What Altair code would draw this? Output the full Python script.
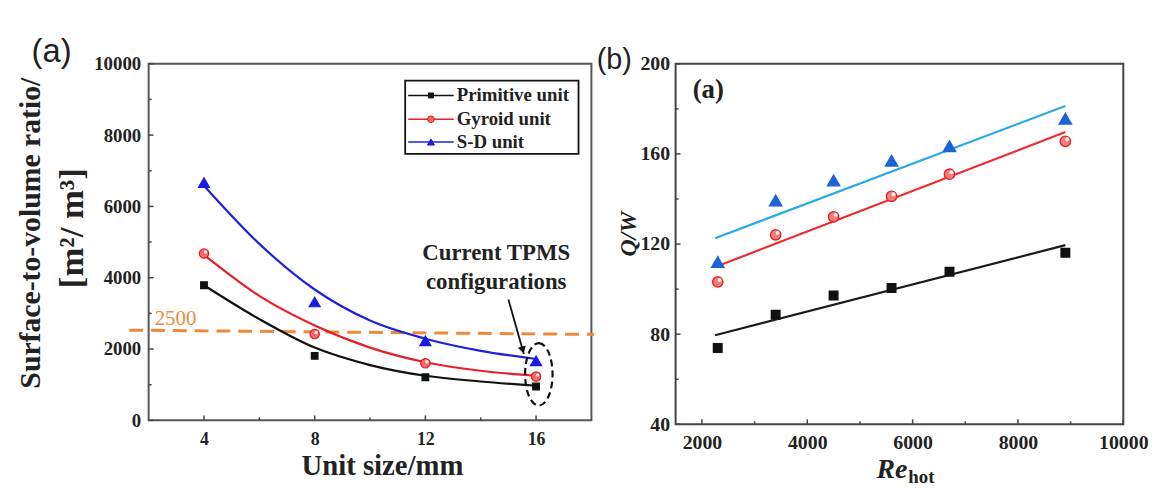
import altair as alt
import pandas as pd

SERIF = "Liberation Serif"
SANS = "Liberation Sans"

series = ["Primitive unit", "Gyroid unit", "S-D unit"]

# ---------------- panel (a) data ----------------
unit_size = [4, 8, 12, 16]
prim_pts = [3790, 1810, 1210, 950]
gyr_pts = [4680, 2420, 1600, 1230]
sd_pts = [6670, 3320, 2230, 1670]

curve_x = [4, 6, 8, 10, 12, 14, 16]
prim_curve = [3790, 2840, 2040, 1550, 1250, 1090, 970]
gyr_curve = [4640, 3490, 2660, 2040, 1630, 1390, 1250]
sd_curve = [6580, 4950, 3670, 2800, 2290, 1950, 1720]

a_xticks = [4, 8, 12, 16]
a_xminor = [6, 10, 14]
a_yticks = [0, 2000, 4000, 6000, 8000, 10000]
a_yminor = [1000, 3000, 5000, 7000, 9000]

threshold_x = [1.3, 18.1]
threshold_y = [2530, 2410]
threshold_label = ["2500"]
threshold_label_pos = [2.97, 2833]

note_lines = ["Current TPMS", "configurations"]
note_x = [14.56, 14.56]
note_y = [4694, 3889]
ellipse_center = [16.1, 1290]
arrow_x = [15.0, 15.56]
arrow_y = [3390, 1860]

# ---------------- panel (b) data ----------------
re_hot = [2300, 3400, 4500, 5600, 6700, 8900]
qw_prim = [73.9, 88.6, 97.2, 100.5, 107.7, 116.1]
qw_gyr = [103.2, 124.1, 132.1, 141.2, 151.0, 165.6]
qw_sd = [112.0, 139.3, 148.2, 157.0, 163.4, 175.6]
fit_x = [2250, 8900]
fit_prim = [79.5, 119.5]
fit_gyr = [109.8, 169.7]
fit_sd = [122.6, 181.3]

b_xticks = [2000, 4000, 6000, 8000, 10000]
b_xminor = [3000, 5000, 7000, 9000]
b_yticks = [40, 80, 120, 160, 200]
b_yminor = [60, 100, 140, 180]

# ---------------- geometry ----------------
AW, AH = 447, 360
BW, BH = 452, 364
A_XDOM, A_YDOM = [2, 18], [0, 10000]
B_XDOM, B_YDOM = [1500, 10000], [40, 200]
TMAJ, TMIN = 5, 3

a_line_col = {"Primitive unit": "#111111", "Gyroid unit": "#e8202a", "S-D unit": "#1f1fe0"}
a_pt_style = {
    "Primitive unit": dict(shape="square", size=45, fill="#111111", stroke="#111111"),
    "Gyroid unit": dict(shape="circle", size=90, fill="#f26a6a", stroke="#e01b1b"),
    "S-D unit": dict(shape="triangle-up", size=125, fill="#1a1ae6", stroke="#1a1ae6"),
}
b_line_col = {"Primitive unit": "#1a1a1a", "Gyroid unit": "#ee2a2a", "S-D unit": "#2aa9e6"}
b_pt_style = {
    "Primitive unit": dict(shape="square", size=75, fill="#111111", stroke="#111111"),
    "Gyroid unit": dict(shape="circle", size=110, fill="#f47c7c", stroke="#e02424"),
    "S-D unit": dict(shape="triangle-up", size=155, fill="#1c63d6", stroke="#1c63d6"),
}


def make_axis(values, pad, size):
    return alt.Axis(values=values, title=None, grid=False, domain=False, ticks=False,
                    tickSize=0, labelFont=SERIF, labelFontWeight="bold", labelFontSize=size,
                    labelColor="#222222", labelPadding=pad, format="d", labelFlush=False,
                    labelOverlap=False)


def enc_a(xf, yf, **extra):
    d = dict(
        x=alt.X(xf, type="quantitative", scale=alt.Scale(domain=A_XDOM, nice=False, zero=False),
                axis=make_axis(a_xticks, 10, 18)),
        y=alt.Y(yf, type="quantitative", scale=alt.Scale(domain=A_YDOM, nice=False, zero=False),
                axis=make_axis(a_yticks, 8, 19)),
    )
    d.update(extra)
    return d


def enc_b(xf, yf, **extra):
    d = dict(
        x=alt.X(xf, type="quantitative", scale=alt.Scale(domain=B_XDOM, nice=False, zero=False),
                axis=make_axis(b_xticks, 8, 20)),
        y=alt.Y(yf, type="quantitative", scale=alt.Scale(domain=B_YDOM, nice=False, zero=False),
                axis=make_axis(b_yticks, 6, 20)),
    )
    d.update(extra)
    return d


def text_at(txt, x, y, **props):
    return alt.Chart(pd.DataFrame({"t": [txt]})).mark_text(**props).encode(
        text="t:N", x=alt.value(x), y=alt.value(y))


def tick_layers(enc, xdom, ydom, w, h, xmaj, xmin, ymaj, ymin, color):
    xu = (xdom[1] - xdom[0]) / w
    yu = (ydom[1] - ydom[0]) / h
    yt = pd.DataFrame({"v": ymaj + ymin, "l": [TMAJ] * len(ymaj) + [TMIN] * len(ymin)})
    yt["a"] = xdom[0]
    yt["b"] = xdom[0] + yt["l"] * xu
    xt = pd.DataFrame({"v": xmaj + xmin, "l": [TMAJ] * len(xmaj) + [TMIN] * len(xmin)})
    xt["a"] = ydom[0]
    xt["b"] = ydom[0] + xt["l"] * yu
    r1 = alt.Chart(yt).mark_rule(color=color, strokeWidth=1.5).encode(**enc("a", "v", x2="b"))
    r2 = alt.Chart(xt).mark_rule(color=color, strokeWidth=1.5).encode(**enc("v", "a", y2="b"))
    return [r1, r2]


# ================= panel (a) =================
a_layers = []
curves = {"Primitive unit": prim_curve, "Gyroid unit": gyr_curve, "S-D unit": sd_curve}
pts = {"Primitive unit": prim_pts, "Gyroid unit": gyr_pts, "S-D unit": sd_pts}

thr = pd.DataFrame({"x": threshold_x, "y": threshold_y})
a_layers.append(alt.Chart(thr).mark_line(color="#ec8a3c", strokeWidth=3, strokeDash=[14, 8])
                .encode(**enc_a("x", "y")))

for s in series:
    df = pd.DataFrame({"x": curve_x, "y": curves[s]})
    a_layers.append(alt.Chart(df).mark_line(color=a_line_col[s], strokeWidth=2.2, interpolate="monotone")
                    .encode(**enc_a("x", "y")))
for s in series:
    df = pd.DataFrame({"x": unit_size, "y": pts[s]})
    st = a_pt_style[s]
    a_layers.append(alt.Chart(df).mark_point(filled=True, opacity=1, strokeWidth=1.2, **st)
                    .encode(**enc_a("x", "y")))
    if s == "Gyroid unit":
        a_layers.append(alt.Chart(df).mark_point(filled=True, opacity=0.9, shape="circle", size=12,
                                                 color="white", xOffset=1.5, yOffset=-1.5)
                        .encode(**enc_a("x", "y")))

lab = pd.DataFrame({"x": [threshold_label_pos[0]], "y": [threshold_label_pos[1]], "t": threshold_label})
a_layers.append(alt.Chart(lab).mark_text(font=SERIF, fontSize=21, color="#ec8a3c", align="center",
                                         baseline="middle").encode(text="t:N", **enc_a("x", "y")))

ell = pd.DataFrame({"x": [ellipse_center[0]], "y": [ellipse_center[1]]})
ELLIPSE = "M0,-1A0.44,1,0,1,1,0,1A0.44,1,0,1,1,0,-1Z"
a_layers.append(alt.Chart(ell).mark_point(shape=ELLIPSE, size=3969, filled=False, opacity=1,
                                          stroke="#111111", strokeWidth=2.2, strokeDash=[7, 4])
                .encode(**enc_a("x", "y")))
arr = pd.DataFrame({"x": arrow_x, "y": arrow_y})
a_layers.append(alt.Chart(arr).mark_line(color="#111111", strokeWidth=1.8).encode(**enc_a("x", "y")))
head = pd.DataFrame({"x": [arrow_x[1] - 0.04], "y": [arrow_y[1] + 110]})
a_layers.append(alt.Chart(head).mark_point(shape="triangle-up", angle=164, size=70, filled=True,
                                           opacity=1, color="#111111").encode(**enc_a("x", "y")))
note = pd.DataFrame({"x": note_x, "y": note_y, "t": note_lines})
a_layers.append(alt.Chart(note).mark_text(font=SERIF, fontWeight="bold", fontSize=23, color="#222222",
                                          align="center", baseline="middle")
                .encode(text="t:N", **enc_a("x", "y")))

a_layers += tick_layers(enc_a, A_XDOM, A_YDOM, AW, AH, a_xticks, a_xminor, a_yticks, a_yminor, "#444444")

# legend (key)
a_layers.append(alt.Chart(pd.DataFrame({"k": [0]})).mark_rect(fill="white", stroke="#111111", strokeWidth=1.8)
                .encode(x=alt.value(259), x2=alt.value(434), y=alt.value(17), y2=alt.value(91)))
leg_rows = [32, 56, 79]
leg_size = {"Primitive unit": 25, "Gyroid unit": 45, "S-D unit": 50}
for s, ry in zip(series, leg_rows):
    one = pd.DataFrame({"t": [s]})
    a_layers.append(alt.Chart(one).mark_rule(color=a_line_col[s], strokeWidth=1.6)
                    .encode(x=alt.value(262), x2=alt.value(308), y=alt.value(ry)))
    st = dict(a_pt_style[s])
    st["size"] = leg_size[s]
    a_layers.append(alt.Chart(one).mark_point(filled=True, opacity=1, strokeWidth=1, **st)
                    .encode(x=alt.value(285), y=alt.value(ry)))
    a_layers.append(alt.Chart(one).mark_text(font=SERIF, fontWeight="bold", fontSize=19, color="#222222",
                                             align="left", baseline="middle")
                    .encode(text="t:N", x=alt.value(311), y=alt.value(ry)))

a_layers.append(text_at("(a)", -98, -12, font=SANS, fontSize=33, color="#222222", align="center",
                        baseline="middle"))
a_layers.append(text_at("Surface-to-volume ratio/", -119, 171, font=SERIF, fontWeight="bold", fontSize=30,
                        color="#222222", align="center", baseline="middle", angle=270))
a_layers.append(text_at("[m²/ m³]", -77, 166, font=SERIF, fontWeight="bold", fontSize=35,
                        color="#222222", align="center", baseline="middle", angle=270))
a_layers.append(text_at("Unit size/mm", 236, 406, font=SERIF, fontWeight="bold", fontSize=29,
                        color="#222222", align="center", baseline="middle"))

panel_a = alt.layer(*a_layers).properties(
    width=AW, height=AH, view=alt.ViewBackground(stroke="#555555", strokeWidth=2))

# ================= panel (b) =================
b_layers = []
fits = {"Primitive unit": fit_prim, "Gyroid unit": fit_gyr, "S-D unit": fit_sd}
bpts = {"Primitive unit": qw_prim, "Gyroid unit": qw_gyr, "S-D unit": qw_sd}
for s in series:
    df = pd.DataFrame({"x": fit_x, "y": fits[s]})
    b_layers.append(alt.Chart(df).mark_line(color=b_line_col[s], strokeWidth=2.2).encode(**enc_b("x", "y")))
for s in series:
    df = pd.DataFrame({"x": re_hot, "y": bpts[s]})
    b_layers.append(alt.Chart(df).mark_point(filled=True, opacity=1, strokeWidth=1.4, **b_pt_style[s])
                    .encode(**enc_b("x", "y")))
    if s == "Gyroid unit":
        b_layers.append(alt.Chart(df).mark_point(filled=True, opacity=0.9, shape="circle", size=16,
                                                 color="white", xOffset=2, yOffset=-2)
                        .encode(**enc_b("x", "y")))

b_layers += tick_layers(enc_b, B_XDOM, B_YDOM, BW, BH, b_xticks, b_xminor, b_yticks, b_yminor, "#444444")

b_layers.append(text_at("(b)", -62, -4, font=SANS, fontSize=29, color="#222222", align="center",
                        baseline="middle"))
b_layers.append(text_at("(a)", 33, 27, font=SERIF, fontWeight="bold", fontSize=27, color="#222222",
                        align="center", baseline="middle"))
b_layers.append(text_at("Q/W", -47, 172, font=SERIF, fontWeight="bold", fontStyle="italic", fontSize=24,
                        color="#222222", align="center", baseline="middle", angle=270))
b_layers.append(text_at("Re", 234, 418, font=SERIF, fontWeight="bold", fontStyle="italic", fontSize=28,
                        color="#222222", align="right", baseline="alphabetic"))
b_layers.append(text_at("hot", 235, 423, font=SERIF, fontWeight="bold", fontSize=19,
                        color="#222222", align="left", baseline="alphabetic"))

panel_b = alt.layer(*b_layers).properties(
    width=BW, height=BH, view=alt.ViewBackground(stroke="#444444", strokeWidth=2))

chart = alt.hconcat(panel_a, panel_b, spacing=85, bounds="flush").properties(
    padding={"left": 7, "top": 25, "right": 5, "bottom": 0},
    background="white",
)

chart.save("out.html", embed_options={"renderer": "svg", "actions": False})
